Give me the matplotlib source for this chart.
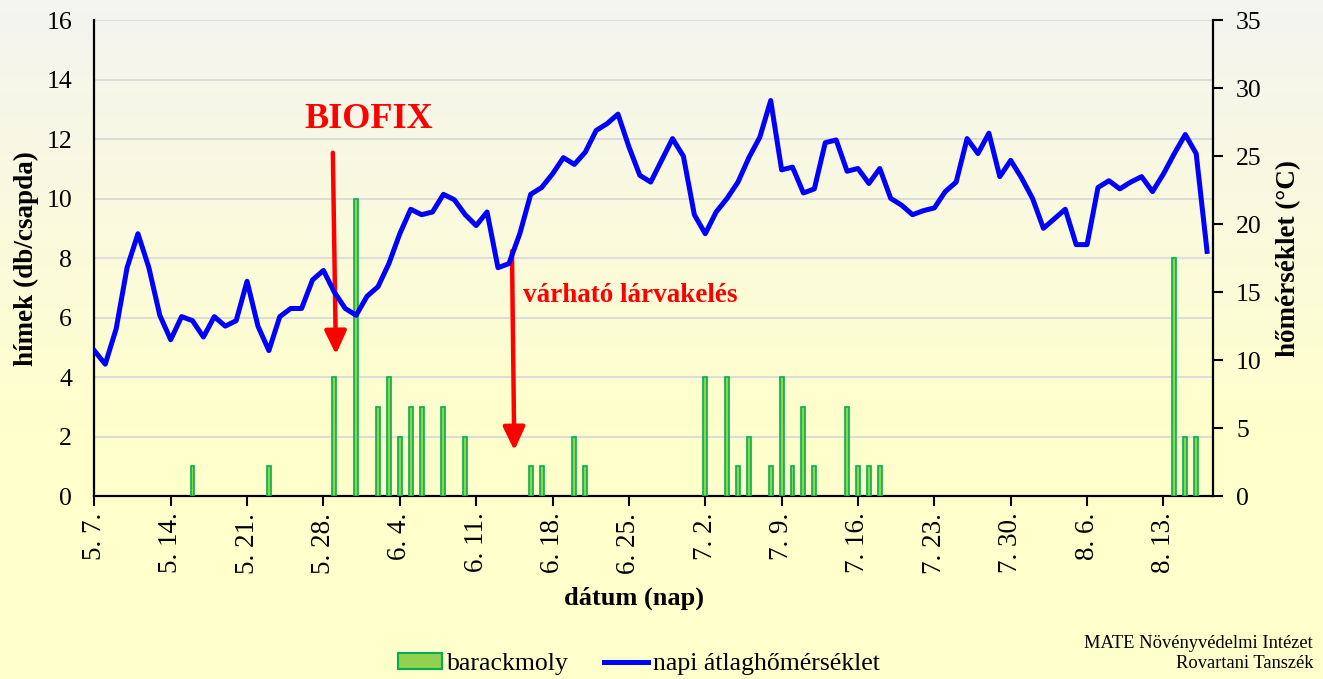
import numpy as np
import pandas as pd
import matplotlib
matplotlib.use("Agg")
import matplotlib.pyplot as plt
from matplotlib.patches import Patch
from matplotlib.lines import Line2D
from matplotlib.ticker import FuncFormatter, MultipleLocator

plt.rcParams['font.family'] = ['Liberation Serif', 'DejaVu Serif']

# napi átlaghőmérséklet (°C), 5.7. - 8.17.
homerseklet = [10.7, 9.7, 12.3, 16.8, 19.3, 16.8, 13.3, 11.5, 13.2, 12.9,
               11.7, 13.2, 12.5, 12.9, 15.8, 12.5, 10.7, 13.2, 13.8, 13.8,
               15.9, 16.6, 15.0, 13.8, 13.3, 14.7, 15.4, 17.1, 19.3, 21.1,
               20.7, 20.9, 22.2, 21.8, 20.7, 19.9, 20.9, 16.8, 17.1, 19.3,
               22.2, 22.7, 23.7, 24.9, 24.4, 25.3, 26.9, 27.4, 28.1, 25.7,
               23.6, 23.1, 24.7, 26.3, 25.0, 20.7, 19.3, 20.9, 21.9, 23.1,
               24.9, 26.4, 29.1, 24.0, 24.2, 22.3, 22.6, 26.0, 26.2, 23.9,
               24.1, 23.0, 24.1, 21.9, 21.4, 20.7, 21.0, 21.2, 22.4, 23.1,
               26.3, 25.2, 26.7, 23.5, 24.7, 23.4, 21.9, 19.7, 20.4, 21.1,
               18.5, 18.5, 22.7, 23.2, 22.6, 23.1, 23.5, 22.4, 23.7, 25.2,
               26.6, 25.2, 18.0]

# csapdázott barackmoly hímek (db/csapda)
fogas_datum = ["05-16", "05-23", "05-29", "05-31", "06-02", "06-03", "06-04",
               "06-05", "06-06", "06-08", "06-10", "06-16", "06-17", "06-20",
               "06-21", "07-02", "07-04", "07-05", "07-06", "07-08", "07-09",
               "07-10", "07-11", "07-12", "07-15", "07-16", "07-17", "07-18",
               "08-14", "08-15", "08-16"]
fogas_db = [1, 1, 4, 10, 3, 4, 2, 3, 3, 3, 2, 1, 1, 2, 1, 4, 4, 1, 2, 1, 4,
            1, 3, 1, 3, 1, 1, 1, 8, 2, 2]

ev = "2023"
datumok = pd.date_range(ev + "-05-07", periods=len(homerseklet), freq="D")
napok = np.arange(len(homerseklet))
fogas_nap = [(pd.Timestamp(ev + "-" + d) - datumok[0]).days for d in fogas_datum]

fig = plt.figure(figsize=(13.23, 6.79), dpi=100)

# háttér színátmenet
bg = fig.add_axes([0, 0, 1, 1], zorder=-10)
grad = np.linspace(0, 1, 256).reshape(-1, 1)
top = np.array([0.957, 0.957, 0.945])
bottom = np.array([1.0, 1.0, 0.80])
w = np.clip(grad * 1.6, 0, 1)
img = top * (1 - w)[:, :, None] + bottom * w[:, :, None]
bg.imshow(img, aspect="auto", extent=[0, 1, 0, 1], origin="upper")
bg.axis("off")

ax = fig.add_axes([0.0713, 0.2695, 0.9165 - 0.0713, 0.970 - 0.2695])
ax.patch.set_alpha(0)
ax.bar(napok[fogas_nap], fogas_db, width=0.36, color="#92D050",
       edgecolor="#00B050", linewidth=1.2, zorder=3)
ax.set_ylim(0, 16)
ax.set_xlim(0, 102.5)
ax.yaxis.set_major_locator(MultipleLocator(2))
ax.grid(axis="y", color="#D9D9D9", linewidth=1.3, zorder=0)
ax.set_axisbelow(True)
ax.xaxis.set_major_locator(MultipleLocator(7))
ax.xaxis.set_major_formatter(FuncFormatter(
    lambda v, p: f"{datumok[int(round(v))].month}. {datumok[int(round(v))].day}."
    if 0 <= int(round(v)) < len(datumok) else ""))
ax.tick_params(axis="x", rotation=90, labelsize=19.5, length=7, width=1.5,
               direction="out", pad=5)
ax.tick_params(axis="y", labelsize=18.5, length=0, pad=16)
for s in ["top", "right"]:
    ax.spines[s].set_visible(False)
for s in ["left", "bottom"]:
    ax.spines[s].set_linewidth(1.6)
ax.set_ylabel("hímek (db/csapda)", fontsize=19.5, fontweight="bold", labelpad=5)

ax2 = ax.twinx()
ax2.plot(napok, homerseklet, color="#0000FF", linewidth=3.6, zorder=4)
ax2.set_ylim(0, 35)
ax2.yaxis.set_major_locator(MultipleLocator(5))
ax2.tick_params(axis="y", labelsize=18.5, length=7, width=1.5, pad=10)
for s in ["top", "left", "bottom"]:
    ax2.spines[s].set_visible(False)
ax2.spines["right"].set_linewidth(1.6)
ax2.set_ylabel("hőmérséklet (°C)", fontsize=19.5, fontweight="bold", labelpad=10)

# nyilak és feliratok
ax2.annotate("", xy=(22.15, 4.67), xytext=(21.86, 11.64),
             xycoords=ax.transData, textcoords=ax.transData,
             arrowprops=dict(arrowstyle="-|>,head_length=0.7,head_width=0.33",
                             color="#FF0000", lw=3.2, mutation_scale=20))
ax2.text(25.2, 12.65, "BIOFIX", transform=ax.transData, color="#FF0000",
         fontsize=26, fontweight="bold", ha="center", va="center")
ax2.annotate("", xy=(38.5, 1.44), xytext=(38.28, 8.33),
             xycoords=ax.transData, textcoords=ax.transData,
             arrowprops=dict(arrowstyle="-|>,head_length=0.7,head_width=0.33",
                             color="#FF0000", lw=3.2, mutation_scale=20))
ax2.text(39.3, 6.75, "várható lárvakelés", transform=ax.transData,
         color="#FF0000", fontsize=19.5, fontweight="bold", ha="left", va="center")

fig.text(634 / 1323, 1 - 598 / 679, "dátum (nap)", fontsize=19,
         fontweight="bold", ha="center", va="center")

handles = [Patch(facecolor="#92D050", edgecolor="#00B050", linewidth=1.5),
           Line2D([], [], color="#0000FF", linewidth=3.6)]
fig.legend(handles, ["barackmoly", "napi átlaghőmérséklet"], ncol=2,
           loc="center", bbox_to_anchor=(639 / 1323, 1 - 664 / 679),
           frameon=False, fontsize=18.5, handlelength=1.7, handleheight=0.55,
           handletextpad=0.2, columnspacing=1.4)

fig.text(1313 / 1323, 1 - 643 / 679, "MATE Növényvédelmi Intézet",
         fontsize=13.3, ha="right", va="center")
fig.text(1313 / 1323, 1 - 664 / 679, "Rovartani Tanszék",
         fontsize=13.3, ha="right", va="center")

fig.savefig("out.png", dpi=100)
